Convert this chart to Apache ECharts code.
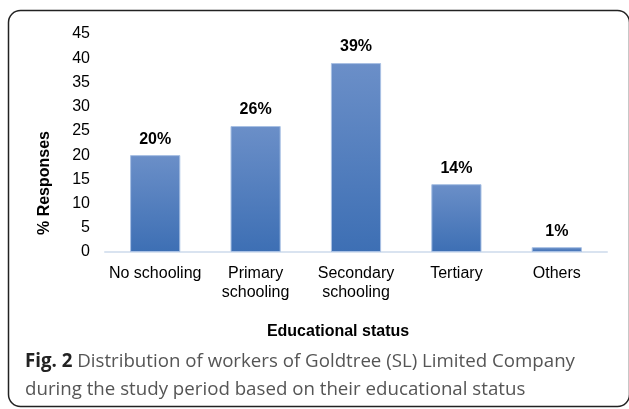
<!DOCTYPE html>
<html><head><meta charset="utf-8">
<script src="https://cdn.jsdelivr.net/npm/echarts@6/dist/echarts.min.js"></script>
<style>html,body{margin:0;padding:0;background:#fff}#c{width:629px;height:409px}</style>
</head><body><div id="c"></div>
<script>
const categories = ['No schooling', 'Primary\nschooling', 'Secondary\nschooling', 'Tertiary', 'Others'];
const values = [20, 26, 39, 14, 1];
const yTicks = [0, 5, 10, 15, 20, 25, 30, 35, 40, 45];
const xName = 'Educational status';
const yName = '% Responses';
const captionBold = 'Fig. 2';
const captionLine1 = ' Distribution of workers of Goldtree (SL) Limited Company';
const captionLine2 = 'during the study period based on their educational status';

const chart = echarts.init(document.getElementById('c'), null, {renderer: 'canvas'});
chart.setOption({
  animation: false,
  grid: {left: 105, right: 22, top: 34, bottom: 157},
  xAxis: {
    type: 'category', data: categories,
    axisLine: {lineStyle: {color: '#d9e3f0', width: 2}},
    axisTick: {show: false},
    axisLabel: {color: '#000', fontFamily: 'Liberation Sans, Arial', fontSize: 16, lineHeight: 19, margin: 12, interval: 0}
  },
  yAxis: {
    type: 'value', min: yTicks[0], max: yTicks[yTicks.length - 1], interval: 5,
    splitLine: {show: false}, axisLine: {show: false}, axisTick: {show: false},
    axisLabel: {color: '#000', fontFamily: 'Liberation Sans, Arial', fontSize: 16, margin: 15}
  },
  series: [{
    type: 'bar', data: values, barWidth: '50%',
    itemStyle: {
      color: new echarts.graphic.LinearGradient(0, 0, 0, 1, [{offset: 0, color: '#6b8fc8'}, {offset: 1, color: '#3d6fb4'}]),
      borderColor: '#a9c1e4', borderWidth: 1
    },
    label: {show: true, position: 'top', distance: 8, formatter: '{c}%', color: '#000',
      fontFamily: 'Liberation Sans, Arial', fontWeight: 'bold', fontSize: 16}
  }],
  graphic: [
    {type: 'rect', shape: {x: 8.5, y: 10.5, width: 621, height: 396, r: 12}, style: {fill: 'none', stroke: '#222', lineWidth: 1.5}, silent: true},
    {type: 'text', x: 45, y: 183, rotation: Math.PI / 2, style: {x: 0, y: 0, text: yName, fill: '#000', font: 'bold 16px "Liberation Sans", Arial', textAlign: 'center', textVerticalAlign: 'middle'}},
    {type: 'text', style: {x: 338, y: 332, text: xName, fill: '#000', font: 'bold 16px "Liberation Sans", Arial', textAlign: 'center', textVerticalAlign: 'middle'}},
    {type: 'text', style: {x: 25, y: 362, text: '{b|' + captionBold + '}{r|' + captionLine1 + '}', textVerticalAlign: 'middle', rich: {b: {font: 'bold 18.7px "Open Sans"', fill: '#222'}, r: {font: '18.7px "Open Sans"', fill: '#555'}}}},
    {type: 'text', style: {x: 25, y: 390, text: captionLine2, fill: '#555', font: '18.7px "Open Sans"', textVerticalAlign: 'middle'}}
  ]
});
</script></body></html>
